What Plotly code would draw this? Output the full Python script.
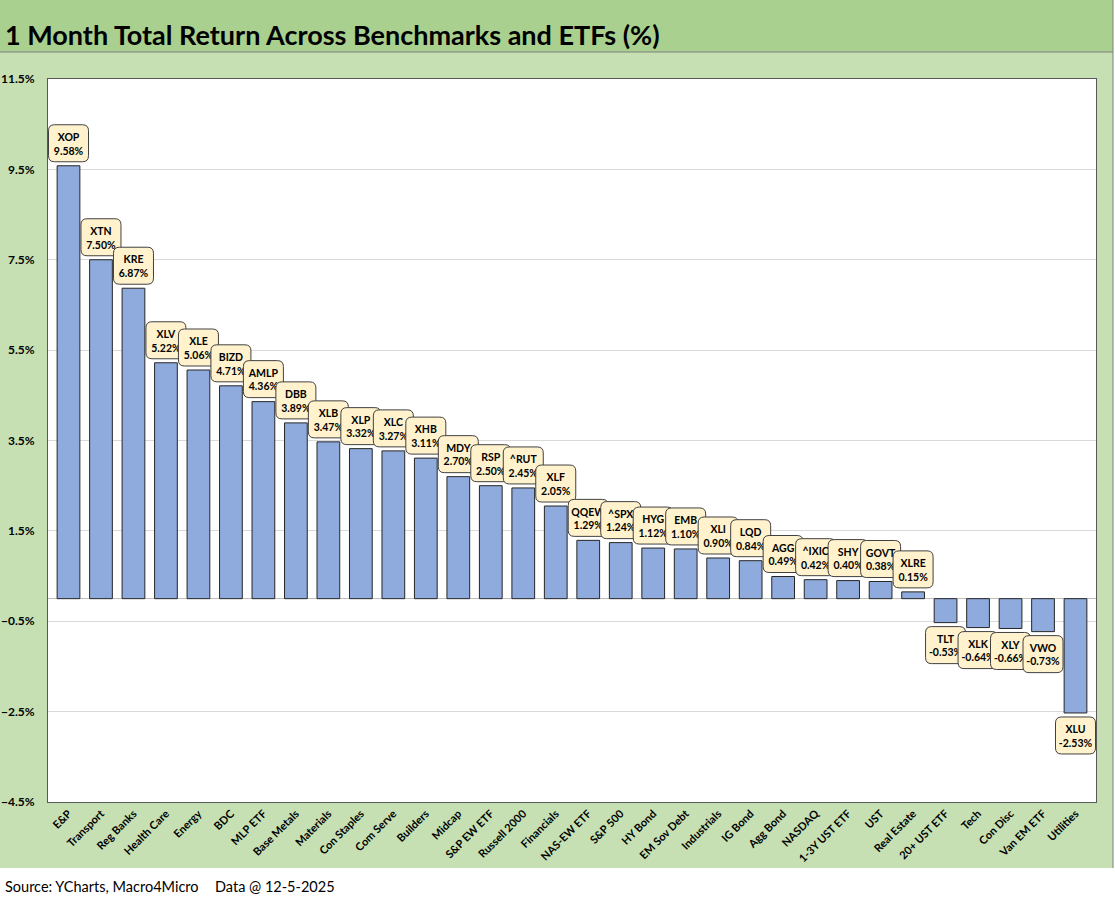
import plotly.graph_objects as go

categories = ["E&P", "Transport", "Reg Banks", "Health Care", "Energy", "BDC", "MLP ETF",
              "Base Metals", "Materials", "Con Staples", "Com Serve", "Builders", "Midcap",
              "S&P EW ETF", "Russell 2000", "Financials", "NAS-EW ETF", "S&P 500", "HY Bond",
              "EM Sov Debt", "Industrials", "IG Bond", "Agg Bond", "NASDAQ", "1-3Y UST ETF",
              "UST", "Real Estate", "20+ UST ETF", "Tech", "Con Disc", "Van EM ETF", "Utilities"]
tickers = ["XOP", "XTN", "KRE", "XLV", "XLE", "BIZD", "AMLP", "DBB", "XLB", "XLP", "XLC",
           "XHB", "MDY", "RSP", "^RUT", "XLF", "QQEW", "^SPX", "HYG", "EMB", "XLI", "LQD",
           "AGG", "^IXIC", "SHY", "GOVT", "XLRE", "TLT", "XLK", "XLY", "VWO", "XLU"]
returns = [9.58, 7.50, 6.87, 5.22, 5.06, 4.71, 4.36, 3.89, 3.47, 3.32, 3.27, 3.11, 2.70,
           2.50, 2.45, 2.05, 1.29, 1.24, 1.12, 1.10, 0.90, 0.84, 0.49, 0.42, 0.40, 0.38,
           0.15, -0.53, -0.64, -0.66, -0.73, -2.53]

W, H = 1115, 900
L, R, T, B = 48, 1096, 79, 802
FONT = "Lato"


def px(x):
    return (x - L) / (R - L)


def py(y):
    return (B - y) / (B - T)


def rounded_box(w, h, r, y0):
    """Rounded rectangle path in pixel units relative to an anchor; y0 = bottom edge offset."""
    x0, x1 = -w / 2, w / 2
    y1 = y0 + h
    return (f"M {x0 + r},{y0} L {x1 - r},{y0} Q {x1},{y0} {x1},{y0 + r} "
            f"L {x1},{y1 - r} Q {x1},{y1} {x1 - r},{y1} L {x0 + r},{y1} "
            f"Q {x0},{y1} {x0},{y1 - r} L {x0},{y0 + r} Q {x0},{y0} {x0 + r},{y0} Z")


fig = go.Figure()
fig.add_trace(go.Bar(
    x=categories, y=returns,
    marker=dict(color="#8FAADC", line=dict(color="#262626", width=1)),
    hoverinfo="x+y",
))

shapes = [
    dict(type="rect", xref="paper", yref="paper", x0=px(0), x1=px(1113), y0=py(868), y1=py(52),
         fillcolor="#C6E0B4", line=dict(width=0), layer="below"),
    dict(type="rect", xref="paper", yref="paper", x0=px(0), x1=px(1113), y0=py(52), y1=py(0),
         fillcolor="#A9D08E", line=dict(width=0), layer="below"),
    dict(type="rect", xref="paper", yref="paper", x0=0, x1=1, y0=0, y1=1,
         fillcolor="#FFFFFF", line=dict(width=0), layer="below"),
    dict(type="line", xref="paper", yref="paper", x0=px(0), x1=px(1113), y0=py(52), y1=py(52),
         line=dict(color="#7F7F7F", width=1)),
    dict(type="line", xref="paper", yref="paper", x0=px(1113), x1=px(1113), y0=py(868), y1=py(0),
         line=dict(color="#7F7F7F", width=1)),
]

annotations = [
    dict(text="<b>1 Month Total Return Across Benchmarks and ETFs (%)</b>", xref="paper", yref="paper",
         x=px(3), y=py(35), xanchor="left", yanchor="middle", showarrow=False,
         font=dict(family=FONT, size=27, color="#000000")),
    dict(text="Source: YCharts, Macro4Micro", xref="paper", yref="paper",
         x=px(3), y=py(886), xanchor="left", yanchor="middle", showarrow=False,
         font=dict(family=FONT, size=14.5, color="#000000")),
    dict(text="Data @ 12-5-2025", xref="paper", yref="paper",
         x=px(213), y=py(886), xanchor="left", yanchor="middle", showarrow=False,
         font=dict(family=FONT, size=14.5, color="#000000")),
]

BOX_W, BOX_H, GAP = 40, 37, 4
for i, (tk, v) in enumerate(zip(tickers, returns)):
    base = GAP if v >= 0 else -GAP - BOX_H
    shapes.append(dict(
        type="path", xref="x", yref="y", xsizemode="pixel", ysizemode="pixel",
        xanchor=i, yanchor=v, path=rounded_box(BOX_W, BOX_H, 6, base),
        fillcolor="#FFF2CC", line=dict(color="#404040", width=1), layer="above",
        label=dict(text=f"<b>{tk}</b><br><b>{v:.2f}%</b>", textposition="middle center",
                   font=dict(family=FONT, size=10.5, color="#000000")),
    ))

fig.update_layout(
    width=W, height=H,
    margin=dict(l=L, r=W - R, t=T, b=H - B, pad=0, autoexpand=False),
    paper_bgcolor="#FFFFFF", plot_bgcolor="#FFFFFF",
    showlegend=False,
    bargap=0.3,
    shapes=shapes, annotations=annotations,
    font=dict(family=FONT, size=11, color="#000000"),
)
fig.update_yaxes(
    range=[-4.5, 11.5], tick0=-4.5, dtick=2, tickformat=".1f", ticksuffix="%",
    showgrid=True, gridcolor="#D9D9D9", gridwidth=1,
    zeroline=True, zerolinecolor="#BFBFBF", zerolinewidth=1,
    showline=True, linecolor="#595959", linewidth=1, mirror=True,
    tickfont=dict(family=FONT, size=12, color="#000000", weight="bold"), ticks="",
    ticklabelstandoff=10, automargin=False,
)
fig.update_xaxes(
    tickangle=-45, showline=True, linecolor="#595959", linewidth=1, mirror=True,
    tickfont=dict(family=FONT, size=11, color="#000000", weight="bold"), showgrid=False,
    automargin=False,
)

fig.write_html("out.html", config={"displayModeBar": False},
               post_script="document.body.style.margin='0';")
